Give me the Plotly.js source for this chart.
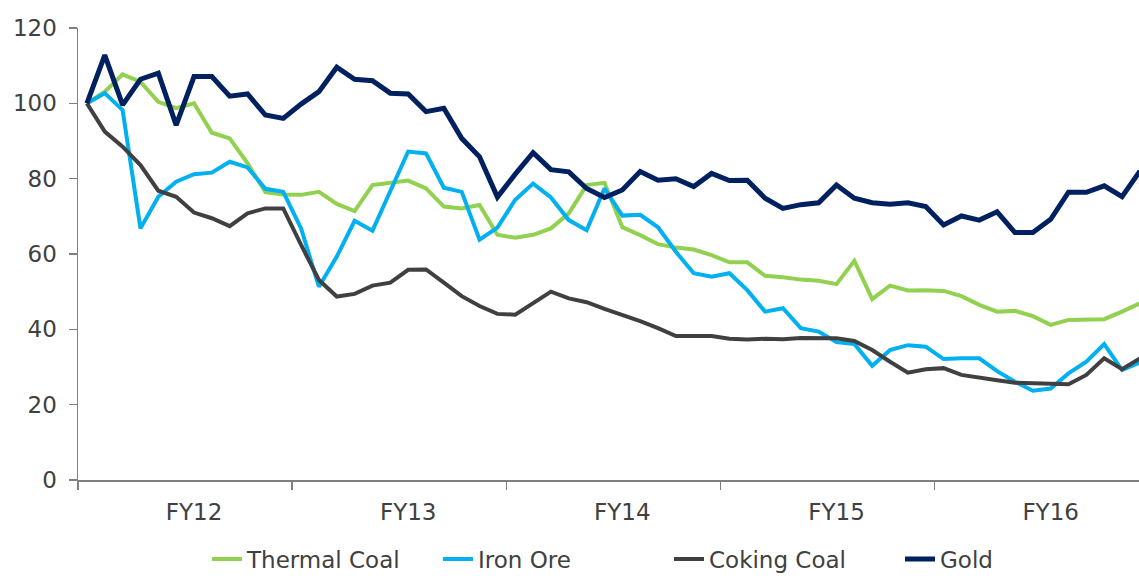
<!DOCTYPE html>
<html>
<head>
<meta charset="utf-8">
<script src="https://cdn.plot.ly/plotly-3.0.1.min.js"></script>
<style>
html, body { margin: 0; padding: 0; background: #ffffff; overflow: hidden; }
#chart { width: 1139px; height: 576px; }
</style>
</head>
<body>
<div id="chart"></div>
<script>
// Months Jul-11 .. Jun-16 (Australian financial years FY12 .. FY16)
const months = [
  'Jul-11','Aug-11','Sep-11','Oct-11','Nov-11','Dec-11','Jan-12','Feb-12','Mar-12','Apr-12','May-12','Jun-12',
  'Jul-12','Aug-12','Sep-12','Oct-12','Nov-12','Dec-12','Jan-13','Feb-13','Mar-13','Apr-13','May-13','Jun-13',
  'Jul-13','Aug-13','Sep-13','Oct-13','Nov-13','Dec-13','Jan-14','Feb-14','Mar-14','Apr-14','May-14','Jun-14',
  'Jul-14','Aug-14','Sep-14','Oct-14','Nov-14','Dec-14','Jan-15','Feb-15','Mar-15','Apr-15','May-15','Jun-15',
  'Jul-15','Aug-15','Sep-15','Oct-15','Nov-15','Dec-15','Jan-16','Feb-16','Mar-16','Apr-16','May-16','Jun-16'
];

const fyLabels = ['FY12', 'FY13', 'FY14', 'FY15', 'FY16'];

const thermalCoal = [
  100, 103.1, 107.7, 105.7, 100.4, 98.7, 100.0, 92.2, 90.7, 84.1, 76.4, 75.8,
  75.7, 76.5, 73.3, 71.4, 78.3, 78.8, 79.5, 77.4, 72.6, 72.1, 73.0, 65.1,
  64.3, 65.1, 66.8, 70.8, 78.3, 78.9, 67.1, 65.0, 62.6, 61.7, 61.2, 59.7,
  57.8, 57.8, 54.2, 53.8, 53.2, 52.9, 52.0, 58.2, 48.0, 51.6, 50.3, 50.4,
  50.2, 48.8, 46.5, 44.7, 44.9, 43.5, 41.2, 42.5, 42.7, 42.7, 44.7, 46.9
];

const ironOre = [
  100, 102.7, 98.2, 66.8, 75.2, 79.2, 81.2, 81.6, 84.5, 83.0, 77.3, 76.5,
  66.8, 51.3, 59.3, 68.8, 66.2, 77.0, 87.2, 86.7, 77.6, 76.5, 63.8, 67.0,
  74.4, 78.7, 75.0, 69.0, 66.3, 77.4, 70.2, 70.4, 67.1, 60.6, 54.9, 54.0,
  54.9, 50.4, 44.7, 45.6, 40.3, 39.4, 36.6, 36.1, 30.3, 34.5, 35.8, 35.4,
  32.1, 32.3, 32.3, 28.9, 26.1, 23.7, 24.3, 28.3, 31.4, 36.1, 29.2, 31.2
];

const cokingCoal = [
  100, 92.5, 88.5, 83.6, 76.8, 75.2, 71.0, 69.5, 67.4, 70.8, 72.1, 72.1,
  62.4, 53.1, 48.7, 49.4, 51.6, 52.4, 55.8, 55.9, 52.4, 48.8, 46.2, 44.1,
  43.9, 47.1, 50.0, 48.2, 47.2, 45.4, 43.8, 42.2, 40.3, 38.2, 38.2, 38.2,
  37.5, 37.3, 37.5, 37.4, 37.7, 37.6, 37.6, 36.9, 34.5, 31.4, 28.5, 29.4,
  29.7, 27.9, 27.3, 26.5, 25.8, 25.6, 25.6, 25.4, 27.9, 32.3, 29.4, 32.3
];

const gold = [
  100, 112.8, 99.6, 106.4, 108.0, 94.2, 107.1, 107.1, 101.9, 102.5, 96.9, 96.0,
  99.8, 103.1, 109.6, 106.4, 106.0, 102.7, 102.5, 97.8, 98.7, 90.7, 85.8, 75.1,
  81.2, 86.9, 82.4, 81.8, 77.4, 75.0, 77.0, 81.9, 79.6, 80.0, 77.9, 81.4,
  79.5, 79.6, 74.8, 72.1, 73.1, 73.6, 78.3, 74.8, 73.6, 73.2, 73.6, 72.6,
  67.7, 70.1, 69.0, 71.2, 65.7, 65.7, 69.2, 76.4, 76.4, 78.1, 75.2, 82.0
];

const seriesNames = ['Thermal Coal', 'Iron Ore', 'Coking Coal', 'Gold'];
const seriesValues = [thermalCoal, ironOre, cokingCoal, gold];
const seriesColors = ['#92D050', '#00B0F0', '#404040', '#002060'];
const seriesWidths = [4, 4, 4, 5];

const idx = months.map((m, i) => i);
const monthsPerYear = 12;
const fyLabelPos = fyLabels.map((f, k) => k * monthsPerYear + 6);
const fyBoundaries = [0, 1, 2, 3, 4, 5].map(k => k * monthsPerYear - 0.5);

const traces = seriesNames.map((name, s) => ({
  type: 'scatter',
  mode: 'lines',
  name: name,
  x: idx,
  y: seriesValues[s],
  text: months,
  hovertemplate: '%{text}: %{y}<extra>' + name + '</extra>',
  line: { color: seriesColors[s], width: seriesWidths[s] }
}));

const FONT = 'DejaVu Sans, Verdana, sans-serif';
const TXT = '#404040';
const AX = '#7F7F7F';

const layout = {
  width: 1139,
  height: 576,
  margin: { l: 78, r: 0, t: 28, b: 96, pad: 0, autoexpand: false },
  paper_bgcolor: '#ffffff',
  plot_bgcolor: '#ffffff',
  font: { family: FONT, size: 23, color: TXT },
  showlegend: true,
  legend: {
    orientation: 'h',
    x: (207 - 78) / 1061,
    xanchor: 'left',
    y: (480 - 559) / 452,
    yanchor: 'middle',
    font: { family: FONT, size: 23, color: TXT },
    entrywidth: 186,
    entrywidthmode: 'pixels',
    bgcolor: 'rgba(0,0,0,0)'
  },
  xaxis: {
    range: [-0.5, 58.95],
    tickmode: 'array',
    tickvals: fyLabelPos,
    ticktext: fyLabels,
    ticks: '',
    ticklabelstandoff: 11,
    showgrid: false,
    zeroline: false,
    showline: true,
    linecolor: AX,
    linewidth: 1.5,
    tickfont: { family: FONT, size: 23, color: TXT },
    minor: {
      tickmode: 'array',
      tickvals: fyBoundaries,
      ticks: 'outside',
      ticklen: 8,
      tickcolor: AX,
      tickwidth: 1.5,
      showgrid: false
    },
    fixedrange: true
  },
  yaxis: {
    range: [0, 120],
    tickmode: 'array',
    tickvals: [0, 20, 40, 60, 80, 100, 120],
    ticks: 'outside',
    ticklen: 8,
    tickwidth: 1.5,
    tickcolor: AX,
    ticklabelstandoff: 7,
    showgrid: false,
    zeroline: false,
    showline: true,
    linecolor: AX,
    linewidth: 1.5,
    tickfont: { family: FONT, size: 23, color: TXT },
    fixedrange: true
  }
};

Plotly.newPlot('chart', traces, layout, { displayModeBar: false, staticPlot: true });
</script>
</body>
</html>
